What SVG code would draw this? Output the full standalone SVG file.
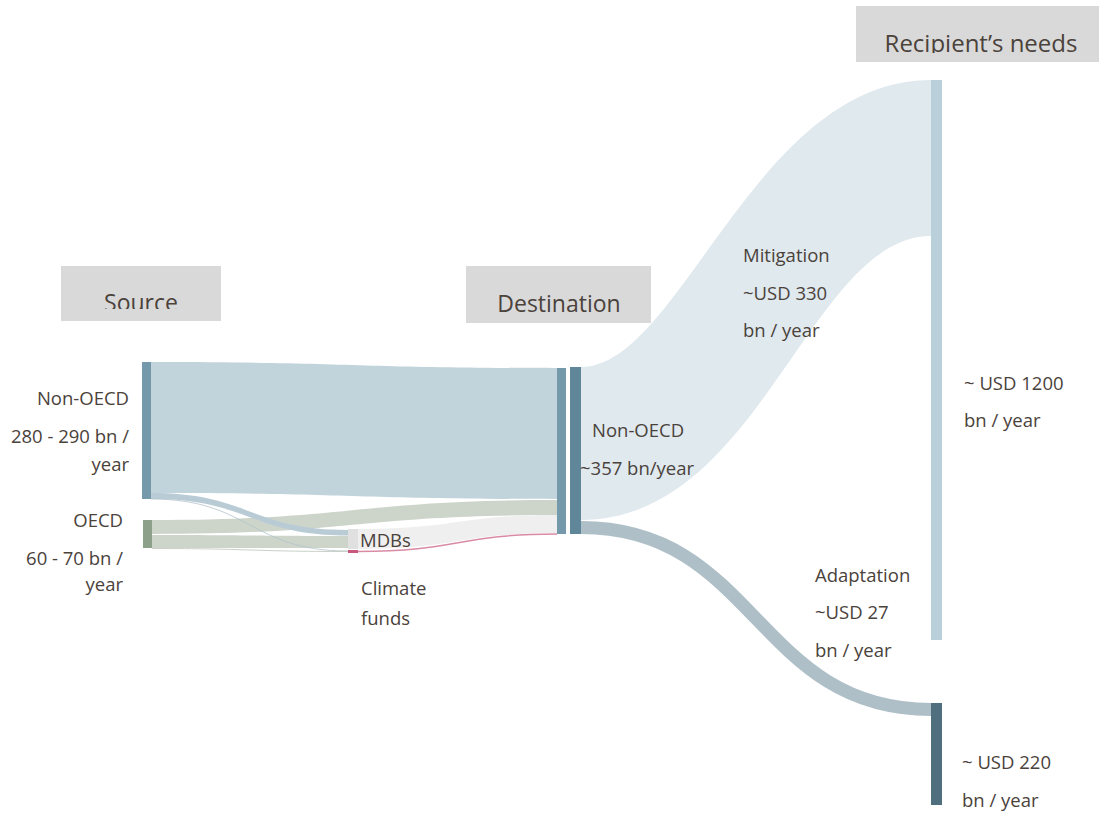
<svg xmlns="http://www.w3.org/2000/svg" width="1099" height="813" viewBox="0 0 1099 813">
<defs>
<style>
text{font-family:"Open Sans","Noto Sans","Liberation Sans",sans-serif;fill:#4a423b;font-size:18.5px}
.hdr{font-size:23px;text-anchor:middle}
.hbox{fill:#d9d9d9}
.end{text-anchor:end}
</style>
<clipPath id="cSrc"><rect x="61" y="266" width="160" height="43"/></clipPath>
<clipPath id="cRec"><rect x="856" y="6" width="243" height="47"/></clipPath>
</defs>
<rect width="1099" height="813" fill="#ffffff"/>

<g id="headers">
<g id="hdr-source"><rect class="hbox" x="61" y="266" width="160" height="55"/><text class="hdr" x="141" y="311" clip-path="url(#cSrc)">Source</text></g>
<g id="hdr-destination"><rect class="hbox" x="466" y="266" width="185" height="57"/><text class="hdr" x="559" y="312">Destination</text></g>
<g id="hdr-recipient"><rect class="hbox" x="856" y="6" width="243" height="56"/><text class="hdr" x="981" y="52" clip-path="url(#cRec)" style="font-size:24px">Recipient’s needs</text></g>
</g>

<g id="connectors">
<path fill="#e0e9ee" d="M581,367 C680,367 755,80 931,80 L931,236 C810,236 760,520 581,520 Z"/>
<path fill="none" stroke="#aebfc7" stroke-width="13" d="M581,527.5 C756,527.5 756,709.5 931,709.5"/>
<path fill="#c1d3db" d="M151,362 C354,362 354,368 557,368 L557,499 C354,499 354,493 151,493 Z"/>
<path fill="#efefef" d="M358,529 C458,529 458,515 557,515 L557,533 C458,533 458,549 358,549 Z"/>
<path fill="#cdd5cb" d="M152,520 C355,520 355,500 557,500 L557,515 C355,515 355,534 152,534 Z"/>
<path fill="#cdd5cb" d="M152,535 C250,535 250,536 348,536 L348,548 C250,548 250,548 152,548 Z"/>
<path fill="#b9ccd6" d="M151,493 C250,493 250,530 348,530 L348,535.5 C250,535.5 250,499 151,499 Z"/>
<path fill="none" stroke="#b3c3cb" stroke-width="0.8" d="M151,499 C250,499 250,551 348,551"/>
<path fill="none" stroke="#c9d0c7" stroke-width="1" d="M152,548.5 C250,548.5 250,551.5 348,551.5"/>
<path fill="none" stroke="#d98ba6" stroke-width="1.5" d="M358,551.5 C458,551.5 458,534 557,534"/>
</g>

<g id="node-source-nonoecd"><rect x="142" y="362" width="9" height="137" fill="#7499aa"/>
<text class="end" x="129" y="405">Non-OECD</text><text class="end" x="129" y="443">280 - 290 bn /</text><text class="end" x="129" y="471">year</text></g>
<g id="node-source-oecd"><rect x="143" y="520" width="9" height="28" fill="#8da08a"/>
<text class="end" x="123" y="527">OECD</text><text class="end" x="123" y="565">60 - 70 bn /</text><text class="end" x="123" y="591">year</text></g>
<g id="node-mdbs"><rect x="348" y="529" width="10" height="20" fill="#e0e0e0"/><text x="360" y="547">MDBs</text></g>
<g id="node-climate-funds"><rect x="348" y="550" width="10" height="3" fill="#c7577d"/><text x="361" y="595">Climate</text><text x="361" y="625">funds</text></g>
<g id="node-dest-in"><rect x="557" y="368" width="9" height="166" fill="#7499aa"/></g>
<g id="node-dest-nonoecd"><rect x="570" y="367" width="11" height="167" fill="#5f8799"/>
<text x="592" y="437">Non-OECD</text><text x="580" y="475">~357 bn/year</text></g>
<g id="node-mitigation-label"><text x="743" y="262">Mitigation</text><text x="743" y="300">~USD 330</text><text x="743" y="337">bn / year</text></g>
<g id="node-adaptation-label"><text x="815" y="582">Adaptation</text><text x="815" y="619">~USD 27</text><text x="815" y="657">bn / year</text></g>
<g id="node-need-mitigation"><rect x="931" y="80" width="11" height="560" fill="#b9d0da"/>
<text x="964" y="390">~ USD 1200</text><text x="964" y="427">bn / year</text></g>
<g id="node-need-adaptation"><rect x="931" y="703" width="11" height="102" fill="#4f6f7e"/>
<text x="962" y="769">~ USD 220</text><text x="962" y="807">bn / year</text></g>
</svg>
